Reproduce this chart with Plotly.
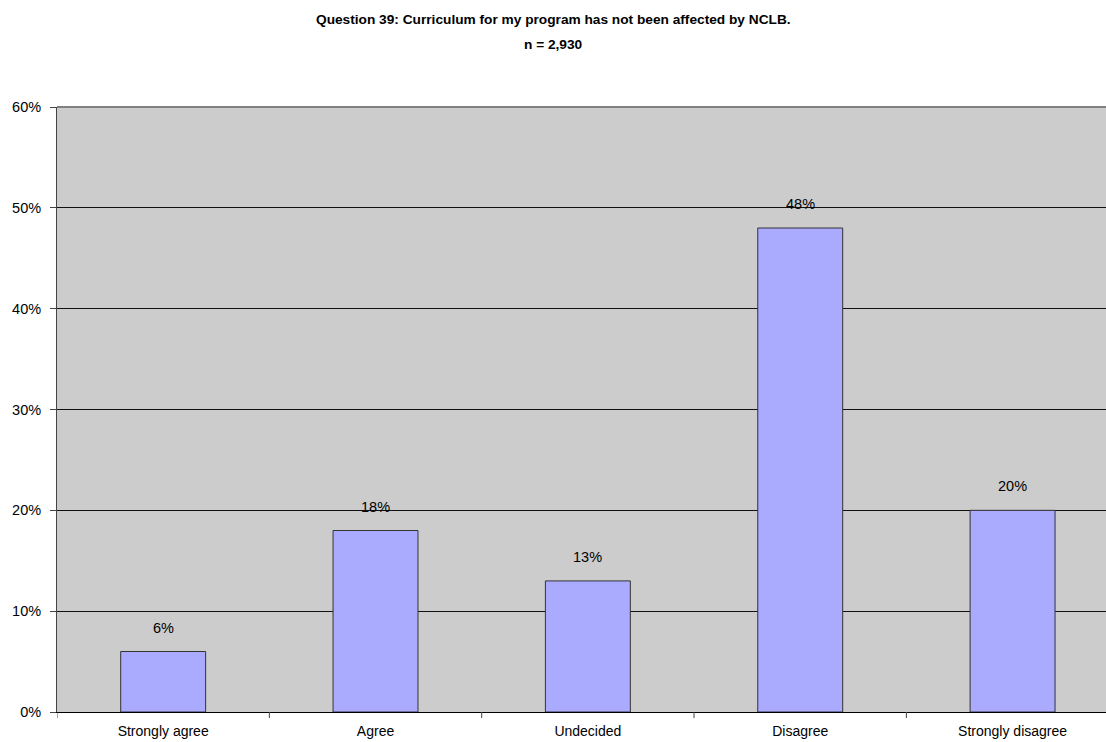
import plotly.graph_objects as go

categories = ["Strongly agree", "Agree", "Undecided", "Disagree", "Strongly disagree"]
values = [6, 18, 13, 48, 20]
labels = ["6%", "18%", "13%", "48%", "20%"]
y_ticks = [0, 10, 20, 30, 40, 50, 60]
y_tick_labels = ["0%", "10%", "20%", "30%", "40%", "50%", "60%"]
title_lines = ["Question 39: Curriculum for my program has not been affected by NCLB.", "n = 2,930"]

font = "Liberation Sans, Arial, sans-serif"

fig = go.Figure()
fig.add_trace(go.Bar(
    x=list(range(len(categories))), y=values,
    width=0.4,
    marker=dict(color="#AAAAFF", line=dict(color="#333333", width=1)),
    hoverinfo="skip",
))

for i, (v, t) in enumerate(zip(values, labels)):
    fig.add_annotation(x=i, y=v, text=t, showarrow=False, yanchor="bottom",
                       yshift=14, font=dict(family=font, size=14.5, color="#000"))

for k, line in enumerate(title_lines):
    fig.add_annotation(xref="paper", yref="paper", x=(553 - 57) / 1049, y=1,
                       xanchor="center", yanchor="middle",
                       yshift=107 - 19 - 25 * k,
                       text="<b>" + line + "</b>", showarrow=False,
                       font=dict(family=font, size=13.7, color="#000"))

fig.update_layout(
    width=1106, height=742,
    margin=dict(l=57, r=0, t=107, b=30),
    paper_bgcolor="white",
    plot_bgcolor="#CCCCCC",
    showlegend=False,
    xaxis=dict(
        tickmode="array", tickvals=list(range(len(categories))), ticktext=categories,
        range=[-0.5, 4.44],
        showgrid=False, showline=True, linecolor="#000", linewidth=1,
        ticks="", ticklabelstandoff=6,
        tickfont=dict(family=font, size=14, color="#000"),
        zeroline=False, fixedrange=True,
    ),
    yaxis=dict(
        range=[0, 60], tickvals=y_ticks, ticktext=y_tick_labels,
        showgrid=True, gridcolor="#111", gridwidth=1,
        showline=True, linecolor="#444", linewidth=1,
        ticks="outside", ticklen=6, tickcolor="#444",
        ticklabelstandoff=6,
        tickfont=dict(family=font, size=14.5, color="#000"),
        zeroline=False, fixedrange=True,
    ),
)

# gray top border of the plot area
fig.add_shape(type="line", xref="paper", yref="paper", x0=0, x1=1, y0=1, y1=1,
              line=dict(color="#808080", width=2))

# category boundary tick marks on the x axis
for b in [-0.5, 0.5, 1.5, 2.5, 3.5]:
    fig.add_shape(type="line", xref="x", yref="paper", x0=b, x1=b, y0=0, y1=-0.01,
                  line=dict(color="#444", width=1))

fig.write_html("out.html")
